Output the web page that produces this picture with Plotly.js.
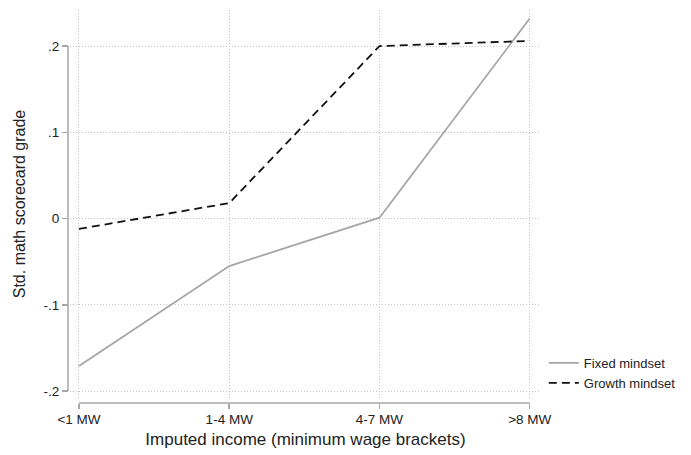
<!DOCTYPE html>
<html>
<head>
<meta charset="utf-8">
<script src="https://cdn.plot.ly/plotly-3.0.1.min.js"></script>
<style>html,body{margin:0;padding:0;background:#fff;}#chart{width:691px;height:455px;}</style>
</head>
<body>
<div id="chart"></div>
<script>
const categories = ["<1 MW", "1-4 MW", "4-7 MW", ">8 MW"];
const fixedMindset = [-0.171, -0.055, 0.001, 0.232];
const growthMindset = [-0.012, 0.018, 0.200, 0.206];
const yTickVals = [-0.2, -0.1, 0, 0.1, 0.2];
const yTickText = ["-.2", "-.1", "0", ".1", ".2"];

const axisGrey = "#a6a6a6";
const font = "Liberation Sans, Arial, sans-serif";

const traces = [
  {x: categories, y: fixedMindset, type: "scatter", mode: "lines", name: "Fixed mindset",
   line: {color: "#a6a6a6", width: 1.8}},
  {x: categories, y: growthMindset, type: "scatter", mode: "lines", name: "Growth mindset",
   line: {color: "#111111", width: 1.8, dash: "8px,5px"}}
];

const layout = {
  width: 691, height: 455,
  margin: {l: 68, r: 148, t: 10, b: 52},
  paper_bgcolor: "#ffffff", plot_bgcolor: "#ffffff",
  font: {family: font, size: 13, color: "#222"},
  showlegend: true,
  legend: {x: 1.006, y: 0.14, xanchor: "left", yanchor: "top", font: {size: 13, color: "#222"},
           bgcolor: "rgba(0,0,0,0)", itemwidth: 30, tracegroupgap: 0},
  xaxis: {
    domain: [0.0042, 1], anchor: "free", position: 0,
    type: "category", range: [-0.06, 3.075],
    showgrid: true, gridcolor: "#c4c4c4", griddash: "1px,2px", gridwidth: 1,
    showline: false, zeroline: false,
    ticks: "outside", ticklen: 5, tickcolor: axisGrey, tickwidth: 1.5,
    ticklabelstandoff: -1,
    tickfont: {size: 13.5, color: "#222"},
    title: {text: "Imputed income (minimum wage brackets)", font: {size: 17, color: "#222"}, standoff: 6}
  },
  yaxis: {
    domain: [0.0127, 1], anchor: "free", position: 0,
    range: [-0.208, 0.2418],
    tickvals: yTickVals, ticktext: yTickText,
    showgrid: true, gridcolor: "#c4c4c4", griddash: "1px,2px", gridwidth: 1,
    showline: false, zeroline: false,
    ticks: "outside", ticklen: 6, tickcolor: axisGrey, tickwidth: 1.5,
    tickfont: {size: 13.5, color: "#222"},
    title: {text: "Std. math scorecard grade", font: {size: 16, color: "#222"}, standoff: 12}
  },
  shapes: [
    {type: "line", xref: "paper", yref: "y", x0: 0, x1: 0, y0: yTickVals[0], y1: yTickVals[yTickVals.length-1],
     line: {color: axisGrey, width: 1.5}},
    {type: "line", xref: "x", yref: "paper", x0: 0, x1: categories.length - 1, y0: 0, y1: 0,
     line: {color: axisGrey, width: 1.5}}
  ]
};

Plotly.newPlot("chart", traces, layout, {displayModeBar: false, staticPlot: true});
</script>
</body>
</html>
